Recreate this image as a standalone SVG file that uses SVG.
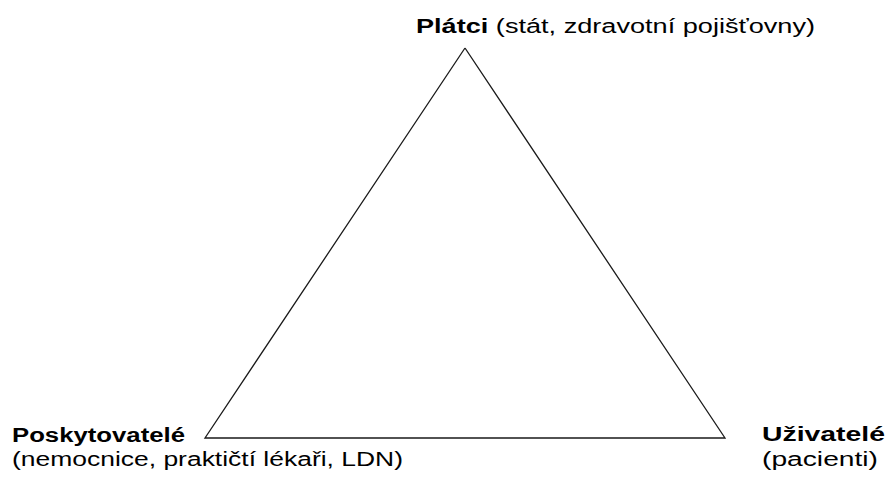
<svg xmlns="http://www.w3.org/2000/svg" width="886" height="484" viewBox="0 0 886 484">
<style>
text{font-family:"Liberation Sans",Arial,sans-serif;font-size:20px;fill:#000}
.b{font-weight:bold}
.edge{fill:none;stroke:#1a1a1a;stroke-width:1.3}
</style>
<rect width="886" height="484" fill="#fff"/>
<g id="connectors">
<polyline class="edge" points="465,48 725,438 205,438 465,48"/>
</g>
<g id="node-platci">
<text x="416" y="33" textLength="399" lengthAdjust="spacingAndGlyphs"><tspan class="b">Plátci</tspan> (stát, zdravotní pojišťovny)</text>
</g>
<g id="node-poskytovatele">
<text class="b" x="12" y="442" textLength="173" lengthAdjust="spacingAndGlyphs">Poskytovatelé</text>
<text x="12" y="466" textLength="391" lengthAdjust="spacingAndGlyphs">(nemocnice, praktičtí lékaři, LDN)</text>
</g>
<g id="node-uzivatele">
<text class="b" x="762" y="441" textLength="123" lengthAdjust="spacingAndGlyphs">Uživatelé</text>
<text x="762" y="466" textLength="116" lengthAdjust="spacingAndGlyphs">(pacienti)</text>
</g>
</svg>
